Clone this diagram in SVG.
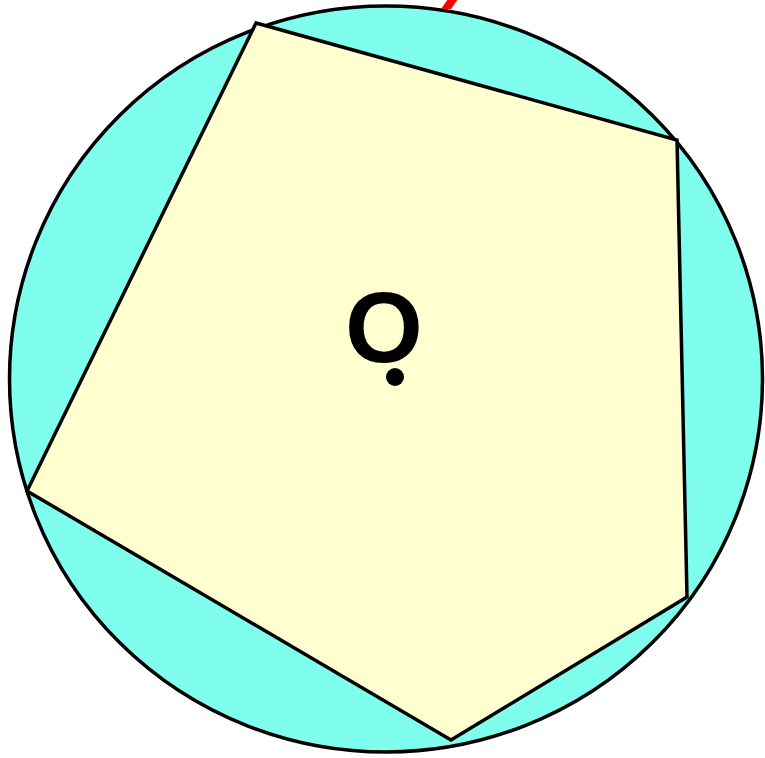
<svg xmlns="http://www.w3.org/2000/svg" width="765" height="758" viewBox="0 0 765 758">
<style>
.outline{stroke:#000;stroke-width:3.5;stroke-linejoin:miter}
.lbl{font-family:"Liberation Sans",Arial,sans-serif;font-weight:bold;font-size:100px;fill:#000}
</style>
<rect width="765" height="758" fill="#fff"/>
<g id="circle">
<ellipse cx="386" cy="379" rx="376.5" ry="373" fill="#7ffded" class="outline"/>
</g>
<g id="pentagon">
<polygon points="256,23 677,140 687,597 451,740 27,491" fill="#ffffd0" class="outline"/>
</g>
<g id="center">
<text class="lbl" x="384" y="362" text-anchor="middle">O</text>
<circle cx="395" cy="377" r="9" fill="#000"/>
</g>
<g id="mark">
<polygon points="441,9 451,9 458,-1 448,-1" fill="#ff0000"/>
</g>
</svg>
